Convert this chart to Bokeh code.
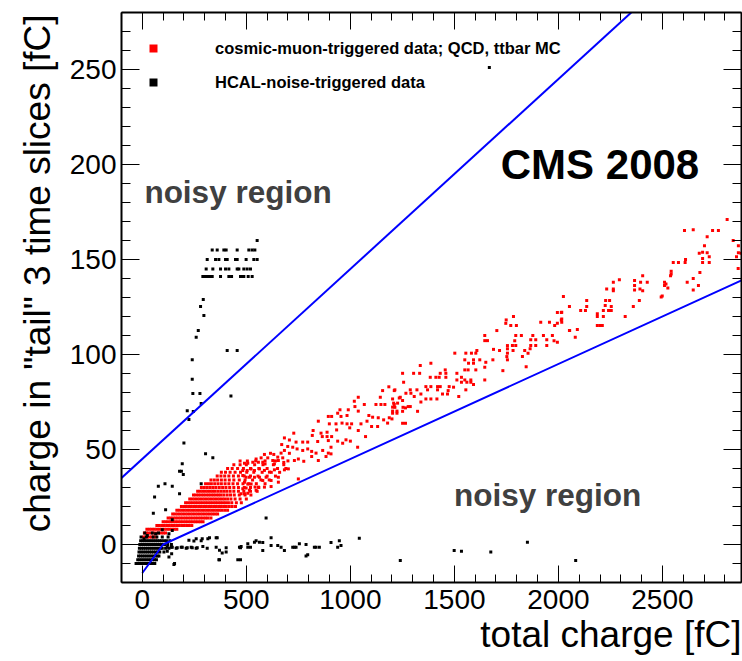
import math
from bokeh.plotting import figure
from bokeh.models import (Range1d, LinearAxis, SingleIntervalTicker, Label, Legend,
                          LegendItem, Title, CustomJSTickFormatter)
from bokeh.embed import file_html
from bokeh.resources import INLINE

# ---------------- data ----------------
# dense red band: one row of points per tail-charge level
red_band_levels = [4, 6, 8, 10, 12, 14, 16, 18, 20, 22, 24, 26, 28, 30, 32, 34, 36, 38, 40, 42, 44]
red_band_x = [
    [5, 15, 25, 35, 45, 55, 65],
    [10, 20, 30, 42, 54, 66, 78, 90, 102, 112],
    [22, 34, 46, 58, 70, 82, 94, 106, 118, 130, 142, 154, 166],
    [70, 82, 94, 106, 118, 130, 142, 154, 166, 178, 190, 202, 214, 226, 238],
    [100, 112, 124, 136, 148, 160, 172, 184, 196, 208, 220, 232, 244, 256, 268, 280, 292],
    [124, 136, 148, 160, 172, 184, 196, 208, 220, 232, 244, 256, 268, 280, 292, 304, 316, 330],
    [146, 158, 170, 182, 194, 206, 218, 230, 242, 254, 266, 278, 290, 302, 314, 326, 338, 350, 362],
    [166, 178, 190, 202, 214, 226, 238, 250, 262, 274, 286, 298, 310, 322, 334, 346, 358, 370, 382, 396, 410],
    [188, 200, 212, 224, 236, 248, 260, 272, 284, 296, 308, 320, 332, 344, 356, 368, 380, 392, 404, 418, 432, 448],
    [208, 220, 232, 244, 256, 268, 280, 292, 304, 316, 328, 340, 352, 364, 376, 388, 400, 414, 430, 452, 476],
    [228, 240, 252, 264, 276, 288, 300, 312, 324, 336, 348, 360, 372, 384, 396, 410, 426, 446, 470, 500],
    [246, 258, 270, 282, 294, 306, 318, 330, 342, 354, 366, 378, 392, 408, 424, 442, 466, 494, 522],
    [266, 278, 290, 302, 314, 326, 338, 350, 364, 378, 392, 406, 422, 440, 462, 488, 520, 552],
    [284, 298, 312, 326, 340, 354, 370, 386, 402, 420, 440, 462, 490, 520, 560],
    [304, 318, 332, 348, 364, 380, 398, 416, 436, 458, 484, 512, 548, 590],
    [330, 346, 362, 380, 398, 418, 440, 466, 494, 530, 570, 610],
    [360, 378, 396, 416, 438, 462, 490, 520, 556, 600, 640],
    [380, 400, 422, 446, 472, 502, 536, 576, 620, 660],
    [410, 432, 458, 486, 520, 560, 600, 650, 690],
    [440, 470, 500, 540, 580, 630, 680],
    [470, 505, 545, 590, 640, 700],
]

# sparse red points at larger total charge
red_tail_x = [
    1185, 1155, 1211, 1144, 1240, 1038, 1019, 1067, 1123, 1147, 1166, 1211, 1203, 1022, 950, 990, 939, 1038,
    1203, 1224, 894, 910, 955, 984, 1089, 1107, 1134, 1160, 1187, 846, 899, 931, 960, 984, 1006, 1051, 1080,
    1102, 1131, 1179, 821, 859, 888, 934, 997, 1038, 728, 1073, 888, 910, 865, 817, 683, 707, 739, 771, 795,
    843, 894, 939, 963, 979, 1000, 1035, 907, 670, 699, 723, 744, 771, 795, 814, 835, 867, 894, 683, 667, 616,
    632, 651, 675, 707, 731, 750, 776, 814, 846, 883, 907, 587, 603, 571, 547, 558, 579, 590, 627, 635, 654,
    680, 683, 702, 750, 491, 507, 531, 483, 504, 523, 539, 563, 587, 611, 635, 654, 654, 483, 499, 515, 539,
    563, 579, 595, 619, 491, 507, 523, 542, 558, 587, 619, 483, 499, 515, 547, 475, 491, 507,
    2024, 2053, 1995, 2014, 1784, 1749, 2014, 1995, 1747, 1771, 1798, 1915, 1957, 1982, 2054, 1704, 1646, 1795,
    1822, 1877, 1928, 1971, 1646, 1659, 1790, 1867, 1891, 1944, 1979, 1995, 1755, 1779, 1795, 1867, 1891, 1944,
    1688, 1717, 1755, 1782, 1838, 1864, 1608, 1502, 1555, 1582, 1603, 1755, 1854, 1752, 1827, 1550, 1592, 1622,
    1755, 1685, 1568, 1592, 1651, 1646, 1603, 1566, 1550, 1512, 1845, 1733, 1456, 1432, 1459, 1336, 1251, 1304,
    1333, 1387, 1384, 1411, 1427, 1459, 1534, 1512, 1550, 1579, 1496, 1534, 1560, 1579, 1592, 1646, 1256, 1363,
    1387, 1419, 1432, 1475, 1214, 1288, 1320, 1291, 1267, 1371, 1419, 1470, 1339, 1363, 1387, 1416, 1443, 1467,
    1521, 1555, 1203, 1235, 1208, 1227, 1251, 1278, 1288, 1339, 1307, 1214, 1253, 1203, 1224, 1251, 1265, 1323,
    1200, 1251, 1265,
    2811, 2606, 2648, 2741, 2769, 2715, 2840, 2702, 2865, 2677, 2693, 2715, 2865, 2878, 2856, 2725, 2611, 2693,
    2552, 2577, 2609, 2693, 2725, 2864, 2542, 2542, 2539, 2680, 2405, 2293, 2366, 2395, 2427, 2619, 2648, 2264,
    2264, 2264, 2510, 2517, 2510, 2526, 2366, 2366, 2392, 2405, 2232, 2648, 2673, 2499, 2494, 2136, 2227,
    2246, 2389, 2136, 2225, 2254, 2360, 2107, 2130, 2216, 2241, 2254, 2016, 2187, 2187, 2216, 2321, 2016, 2016,
    2187, 2200, 2211, 2053, 2091, 2081,
]
red_tail_y = [
    83, 81, 81, 77.5, 77.5, 77.5, 75.4, 73.7, 73.7, 73.7, 73.7, 73.7, 72.3, 72.6, 70.9, 70.9, 69.1, 70.2,
    70.2, 70.2, 67.4, 67.4, 67.4, 67.9, 67.9, 67, 66.7, 65.6, 66.7, 64.9, 63.5, 63.5, 63.9, 63.5, 63.5, 63.5, 64.9,
    62.1, 62.1, 63.9, 60, 58.6, 59.1, 60.3, 61.4, 60, 58.6, 56.8, 56.8, 56.8, 56.8, 57.4, 56.1, 55, 53.9, 53.9, 53.9,
    54.2, 54.7, 54.4, 53.3, 55.1, 54.4, 51.2, 51.2, 52.6, 51.6, 51.2, 50.3, 49.5, 50.3, 49, 48.1, 49.5, 48.1, 49.5, 48.1, 48,
    47.4, 46, 45.6, 48, 44.2, 45, 43.8, 46.3, 44.2, 46.3, 47.7, 47.4, 45.6, 45.6, 45, 43.3, 43.3, 42.4, 44.2, 42.4, 44.2,
    43.2, 39.3, 39.8, 34.5, 42.8, 42.8, 43.3, 39, 39, 39.8, 39, 39.8, 39, 38.1, 39.3, 35.4, 32.8, 36.3, 35.4, 35.4, 35.4,
    35.4, 33.7, 35.4, 33.7, 32.8, 31.9, 31.9, 30.2, 30.2, 30.2, 30.5, 29.3, 29.8, 28.5, 28.5, 26.7, 26.7, 27,
    130.5, 125.2, 122.1, 122.1, 120, 118.2, 118.2, 116.4, 116.4, 115.2, 115.2, 117, 117, 115.2, 112.6, 112.6, 110, 110,
    110, 110, 110, 110, 107.3, 107.3, 107.3, 107.7, 107.7, 107.7, 107.3, 106.5, 104.7, 104.7, 104.7, 104.7, 104.7, 104.7,
    102.7, 102.1, 103, 102.1, 102.1, 103, 102.1, 100.7, 100.7, 100.7, 100.7, 100.7, 100.7, 98.9, 98.9, 97.2, 97.2, 97.2,
    97.2, 97.2, 95.4, 95.4, 95.9, 93.3, 91.9, 91.9, 91.9, 90.1, 93.6, 91.5, 91.9, 90.1, 90.1, 94.2, 90.1, 90.1,
    90.1, 95.4, 88, 88, 88, 88, 88, 86.6, 86.6, 86.6, 82.8, 85.4, 85.4, 85.4, 84.2, 86.6, 85.4, 83.1,
    83.1, 83.1, 83.1, 83.1, 81.4, 81.4, 81.4, 79.6, 79.6, 81.4, 81.4, 81, 79.2, 76.6, 76.6, 76.6, 79.2, 79.2,
    77.9, 81.4, 76.6, 77.1, 74.4, 74.4, 75.8, 72.6, 72.6, 75, 77.9, 72.2, 72.2, 69.1, 69.1, 70.1, 71.9, 70.1,
    66.1, 63.8, 63.8,
    171, 165.2, 165.7, 165.2, 165.2, 162, 160, 157.3, 157.3, 153.3, 153.8, 153.6, 153.6, 153.3, 151.5, 151.5, 150, 150.5,
    148.4, 148.4, 148.4, 148.4, 148.4, 145.2, 143.8, 142.4, 141.5, 143.1, 141.5, 139.4, 138.9, 138, 138, 138, 140, 138,
    134.5, 133.6, 138, 137.1, 136.3, 135, 136.3, 134, 134.5, 133.6, 134.5, 134, 136.3, 130.8, 130.3, 128.4, 128.4,
    128.4, 128.4, 125.2, 125.8, 125.2, 125.2, 123.1, 123.1, 123.1, 123.1, 123.1, 122.2, 121.4, 120, 120, 120, 118.7, 117,
    115.2, 115.2, 115.2, 112.6, 113.1, 109.1,
]

# dense block of HCAL-noise events at low charge
black_block_levels = [6, 4, 2, 0, -2, -4, -6, -8, -10]
black_block_x = [
    [12, 48, 78],
    [-6, 20, 52, 70, 96, 124],
    [-8, 2, 12, 22, 32, 42, 52, 62, 72, 82, 92, 104, 116, 132],
    [-12, -2, 8, 18, 28, 38, 48, 58, 68, 78, 88, 98, 108, 122, 140],
    [-14, -4, 6, 16, 26, 36, 46, 56, 66, 76, 86, 96, 112, 128],
    [-16, -6, 4, 14, 24, 34, 44, 54, 64, 74, 84, 104],
    [-18, -8, 2, 12, 22, 32, 42, 52, 62, 72, 80],
    [-22, -12, -2, 8, 18, 28, 38, 48, 58, 68],
    [-30, -20, -10, 0, 10, 20, 30, 40, 50, 60],
]

# noise events with a large tail fraction (the vertical spike)
black_spike_x = [336, 360, 392, 403, 456, 512, 528, 541,
                 312, 352, 368, 400, 408, 448, 456, 499, 536, 552,
                 307, 339, 376, 400, 416, 456, 464, 488, 504, 520,
                 291, 301, 312, 323, 336, 376, 416, 429, 472, 480, 488, 509, 528,
                 552, 293, 280, 296, 269, 259, 408, 456, 240, 240, 243, 277, 283, 426, 216, 245, 224]
black_spike_y = [155, 155, 155, 155, 155, 155, 155, 155,
                 150, 150, 150, 150, 150, 150, 150, 150, 150, 150,
                 145, 145, 145, 145, 145, 145, 145, 145, 145, 145,
                 141, 141, 141, 141, 141, 141, 141, 141, 141, 141, 141, 141, 141,
                 160, 129, 125.3, 120.5, 112.6, 109.1, 102.1, 102.1, 97.2, 87, 79.5, 79.5, 74.2, 78.1, 70.4, 70, 65.8]

# other scattered noise events
black_scatter_x = [200, 304, 339, 192, 179, 188, 197, 109, 77, 144, 283, 59, 179, 112, 53, 144,
                   96, 144, 128, 64, 24, 8, 224, 248, 288, 323, 360, 120, 144, 168, 192, 216, 240, 264,
                   403, 472, 520, 384, 472, 368, 152, 120, 141, 128,
                   259, 283, 315, 355, 139, 163, 187, 211, 235, 259, 291, 312, 355, 371, 403, 467, 507,
                   547, 579, 619, 651, 667, 731, 787, 827, 851, 907, 947, 955, 155, 371, 459, 787,
                   475, 507, 539, 563, 579, 619, 683, 723, 739, 755, 795, 835, 939, 1043, 595,
                   1240, 1499, 1534, 1675, 1851, 2083, 1668]
black_scatter_y = [53.4, 47.8, 45.7, 42.5, 38.6, 38.6, 36.9, 32, 30.6, 30.6, 32, 25, 26.7, 18.3, 16.5, 13,
                   7.8, 7.4, 5.7, 5.7, 4.8, 3.0, 2.2, 1.8, 3, 3.6, 3.6, -1.4, -1.4, -1.7, -1.4, -1.7, -1.7, -1.7,
                   -1.7, -1.7, -1.4, -4.5, -8, -8, -10.5, -3.5, -4.9, -6.6,
                   3, 2, 3, 3.5, -1.4, -2, -1.4, -2, -1.4, -2, -1, -2, -1.4, -3, -4, -1.4, -1.4,
                   2, 1, 3.5, -0.5, -1.4, -1.4, 0, -1.4, -1.4, 1, 2, -0.5, -10, -8, -8, -6,
                   -1, 0.4, 1.2, 1.2, -3.2, -0.5, -3.2, -1.4, -1.4, 0.4, -5.4, -1.4, -1.4, 3.3, 14,
                   -8.4, -3.2, -3.5, -4, 1.2, -8.4, 251]

# noise-rejection cut lines
cut_upper_x = [-100, 2880]
cut_upper_y = [35, 333]
cut_lower_x = [0, 100, 2880]
cut_lower_y = [-15, 0, 139]

legend_labels = ["cosmic-muon-triggered data; QCD, ttbar MC", "HCAL-noise-triggered data"]
x_title = "total charge [fC]"
y_title = 'charge in "tail" 3 time slices [fC]'

# ---------------- build ----------------
FONT = "Liberation Sans"

rbx, rby = [], []
for lvl, xs in zip(red_band_levels, red_band_x):
    rbx.extend(xs)
    rby.extend([lvl] * len(xs))
bbx, bby = [], []
for lvl, xs in zip(black_block_levels, black_block_x):
    bbx.extend(xs)
    bby.extend([lvl] * len(xs))

p = figure(width=742, height=661, x_range=Range1d(-100, 2880), y_range=Range1d(-20, 280),
           output_backend="svg", toolbar_location=None,
           x_axis_location=None, y_axis_location=None,
           min_border_left=121, min_border_right=1, min_border_top=12, min_border_bottom=79)
p.xgrid.visible = False
p.ygrid.visible = False
p.outline_line_color = None
p.background_fill_color = "white"
p.border_fill_color = "white"


def make_axis(interval, tick_len, show_labels):
    ax = LinearAxis(ticker=SingleIntervalTicker(interval=interval, num_minor_ticks=5))
    ax.major_tick_in = tick_len
    ax.major_tick_out = 0
    ax.minor_tick_in = tick_len // 2
    ax.minor_tick_out = 0
    ax.axis_line_width = 2
    ax.axis_line_color = "black"
    ax.major_tick_line_color = "black"
    ax.minor_tick_line_color = "black"
    ax.major_tick_line_width = 1
    ax.minor_tick_line_width = 1
    if show_labels:
        ax.major_label_text_font = FONT
        ax.major_label_text_font_size = "28px"
        ax.major_label_text_color = "black"
    else:
        ax.formatter = CustomJSTickFormatter(code="return ''")
        ax.major_label_text_font_size = "1px"
        ax.major_label_standoff = 0
    return ax


bottom = make_axis(500, 17, True)
bottom.major_label_standoff = 7
left = make_axis(50, 18, True)
left.major_label_standoff = 5
top = make_axis(500, 17, False)
right = make_axis(50, 18, False)
p.add_layout(bottom, "below")
p.add_layout(left, "left")
p.add_layout(top, "above")
p.add_layout(right, "right")

p.add_layout(Title(text=x_title, align="right", text_font=FONT, text_font_size="37px",
                   text_font_style="normal", text_color="black", standoff=0, offset=0), "below")
p.add_layout(Title(text=y_title, align="right", text_font=FONT, text_font_size="37px",
                   text_font_style="normal", text_color="black", standoff=17, offset=2), "left")

r_red_band = p.scatter(rbx, rby, marker="square", size=3, fill_color="red", line_color=None)
r_red_tail = p.scatter(red_tail_x, red_tail_y, marker="square", size=3, fill_color="red", line_color=None)
r_blk_block = p.scatter(bbx, bby, marker="square", size=3, fill_color="black", line_color=None)
r_blk_spike = p.scatter(black_spike_x, black_spike_y, marker="square", size=3, fill_color="black", line_color=None)
r_blk_scat = p.scatter(black_scatter_x, black_scatter_y, marker="square", size=3, fill_color="black", line_color=None)

p.line(cut_upper_x, cut_upper_y, line_color="#0000ff", line_width=2)
p.line(cut_lower_x, cut_lower_y, line_color="#0000ff", line_width=2)

legend = Legend(items=[LegendItem(label=legend_labels[0], renderers=[r_red_band]),
                       LegendItem(label=legend_labels[1], renderers=[r_blk_block])],
                location=(22, 490), orientation="vertical", padding=0, margin=0, spacing=14,
                glyph_width=20, glyph_height=20, label_height=20, label_standoff=52,
                label_text_font=FONT, label_text_font_size="16.5px", label_text_font_style="bold",
                label_text_color="black", border_line_color=None, background_fill_alpha=0)
p.add_layout(legend)

gray = "#404040"
p.add_layout(Label(x=10, y=185.5, text="noisy region", text_font=FONT, text_font_size="31.5px",
                   text_font_style="bold", text_color=gray, text_baseline="alphabetic"))
p.add_layout(Label(x=1498, y=26, text="noisy region", text_font=FONT, text_font_size="31.5px",
                   text_font_style="bold", text_color=gray, text_baseline="alphabetic"))
p.add_layout(Label(x=1723, y=200, text="CMS 2008", text_font=FONT, text_font_size="42px",
                   text_font_style="bold", text_color="black", text_baseline="alphabetic"))

open("out.html", "w").write(file_html(p, INLINE))
